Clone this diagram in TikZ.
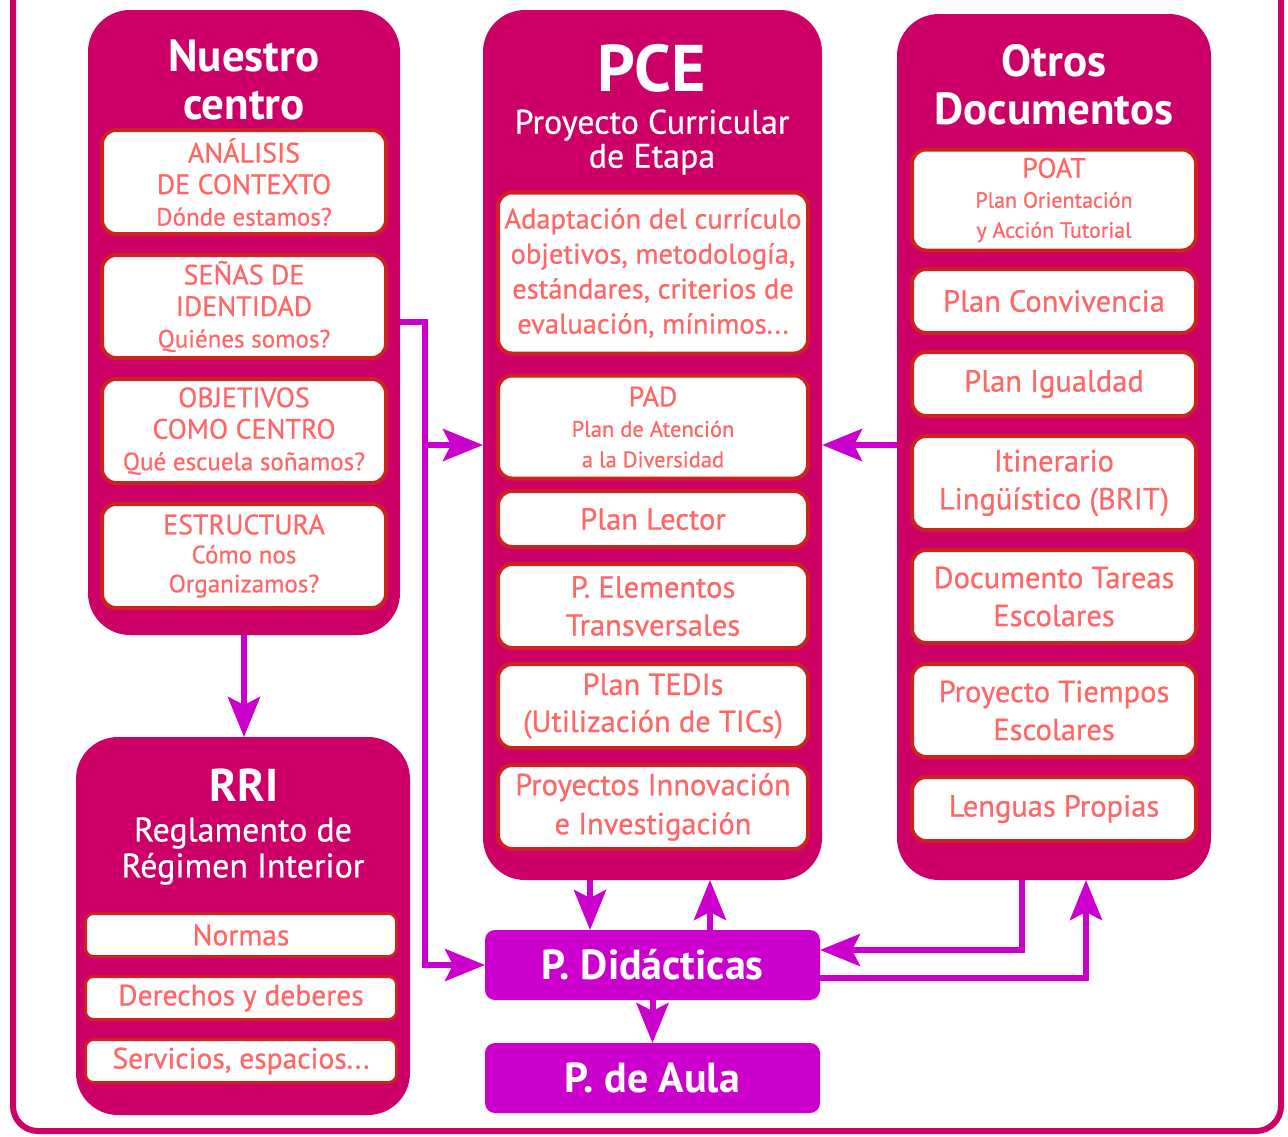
\documentclass[tikz,border=0pt]{standalone}
\usepackage{fontspec}
\setmainfont{PT Sans}[UprightFeatures={FakeBold=0.7}]
\usetikzlibrary{arrows.meta}
\definecolor{pinkc}{RGB}{204,0,102}
\definecolor{redc}{RGB}{204,34,34}
\definecolor{salm}{RGB}{255,102,102}
\definecolor{purp}{RGB}{204,0,204}
\newcommand\fsz[2]{\fontsize{#1}{#2}\selectfont}
\begin{document}
\begin{tikzpicture}[x=1pt,y=-1pt,
  col/.style={fill=pinkc, rounded corners=42, inner sep=0, outer sep=0},
  sub/.style={fill=white, draw=redc, line width=4, rounded corners=14, inner sep=0, outer sep=0, text=salm, align=center},
  ttl/.style={text=white, align=center, inner sep=0, font=\bfseries},
  wt/.style={text=white, align=center, inner sep=0},
  pbox/.style={fill=purp, rounded corners=10, inner sep=0, outer sep=0, text=white},
  arr/.style={draw=purp, line width=6, -{Stealth[length=40pt,width=32pt,inset=8pt]}}]
\useasboundingbox (0,0) rectangle (1288,1136);
\begin{scope}
\clip (0,0) rectangle (1288,1136);
\draw[pinkc, line width=6, rounded corners=25] (13,-60) rectangle (1281,1131);
\end{scope}

% Columns
\node[col, minimum width=312, minimum height=625] (nc) at (244,322.5) {};
\node[col, minimum width=339, minimum height=870] (pce) at (652.5,445) {};
\node[col, minimum width=314, minimum height=866] (od) at (1054,447) {};
\node[col, minimum width=334, minimum height=378] (rri) at (243,926) {};

% Titles
\node[ttl, font=\bfseries\fsz{45}{48}] (nct) at (244,80) {Nuestro\\centro};
\node[ttl, font=\bfseries\fsz{66}{70}] (pcet) at (652,68) {PCE};
\node[wt, font=\fsz{34}{34}] (pces) at (652,142) {Proyecto Curricular\\de Etapa};
\node[ttl, font=\bfseries\fsz{45}{48}] (odt) at (1054,85) {Otros\\Documentos};
\node[ttl, font=\bfseries\fsz{46}{50}] (rrit) at (244,785) {RRI};
\node[wt, font=\fsz{34}{36}] (rris) at (243,851) {Reglamento de\\Régimen Interior};

% Nuestro centro boxes
\node[sub, minimum width=284, minimum height=104, font=\fsz{28}{31.5}] (n1) at (244,182) {ANÁLISIS\\DE CONTEXTO\\\fsz{25}{31.5}Dónde estamos?};
\node[sub, minimum width=284, minimum height=103, font=\fsz{28}{31.5}] (n2) at (244,306.5) {SEÑAS DE\\IDENTIDAD\\\fsz{25}{31.5}Quiénes somos?};
\node[sub, minimum width=284, minimum height=104, font=\fsz{28}{31.5}] (n3) at (244,431) {OBJETIVOS\\COMO CENTRO\\\fsz{25}{31.5}Qué escuela soñamos?};
\node[sub, minimum width=284, minimum height=104, font=\fsz{28}{29}] (n4) at (244,556) {ESTRUCTURA\\\fsz{25}{29}Cómo nos\\\fsz{25}{29}Organizamos?};

% PCE boxes
\node[sub, minimum width=310, minimum height=161, font=\fsz{28.5}{35}] (p1) at (653,273) {Adaptación del currículo\\objetivos, metodología,\\estándares, criterios de\\evaluación, mínimos...};
\node[sub, minimum width=310, minimum height=103, font=\fsz{28}{30.5}] (p2) at (653,427) {PAD\\\fsz{22.5}{30.5}Plan de Atención\\\fsz{22.5}{30.5}a la Diversidad};
\node[sub, minimum width=310, minimum height=56, font=\fsz{30.5}{38}] (p3) at (653,519) {Plan Lector};
\node[sub, minimum width=310, minimum height=84, font=\fsz{30.5}{38}] (p4) at (653,606) {P. Elementos\\Transversales};
\node[sub, minimum width=310, minimum height=84, font=\fsz{30.5}{37}] (p5) at (653,706) {Plan TEDIs\\(Utilización de TICs)};
\node[sub, minimum width=310, minimum height=84, font=\fsz{30.5}{39}] (p6) at (653,807) {Proyectos Innovación\\e Investigación};

% Otros boxes
\node[sub, minimum width=284, minimum height=101, font=\fsz{28}{30}] (o1) at (1054,200) {POAT\\\fsz{22}{30}Plan Orientación\\\fsz{22}{30}y Acción Tutorial};
\node[sub, minimum width=284, minimum height=64, font=\fsz{30.5}{38}] (o2) at (1054,301) {Plan Convivencia};
\node[sub, minimum width=284, minimum height=64, font=\fsz{30.5}{38}] (o3) at (1054,384) {Plan Igualdad};
\node[sub, minimum width=284, minimum height=94, font=\fsz{30.5}{38}] (o4) at (1054,483) {Itinerario\\Lingüístico (BRIT)};
\node[sub, minimum width=284, minimum height=93, font=\fsz{30.5}{38}] (o5) at (1054,596.5) {Documento Tareas\\Escolares};
\node[sub, minimum width=284, minimum height=93, font=\fsz{30.5}{38}] (o6) at (1054,710.5) {Proyecto Tiempos\\Escolares};
\node[sub, minimum width=284, minimum height=64, font=\fsz{30.5}{38}] (o7) at (1054,809) {Lenguas Propias};

% RRI boxes
\node[sub, line width=3, rounded corners=8, minimum width=311, minimum height=43, font=\fsz{29.5}{38}] (r1) at (241,935) {Normas};
\node[sub, line width=3, rounded corners=8, minimum width=311, minimum height=43, font=\fsz{29.5}{38}] (r2) at (241,998) {Derechos y deberes};
\node[sub, line width=3, rounded corners=8, minimum width=311, minimum height=43, font=\fsz{29.5}{38}] (r3) at (241,1061) {Servicios, espacios...};

% Purple boxes
\node[pbox, minimum width=335, minimum height=70, font=\bfseries\fsz{42}{46}] (pd) at (652.5,965) {P. Didácticas};
\node[pbox, minimum width=335, minimum height=70, font=\bfseries\fsz{42}{46}] (aula) at (652.5,1078) {P. de Aula};

% Connectors
\draw[arr] (nc.east |- 0,322) -- (425,322) -- (425,965) -- (pd.west);
\draw[arr] (425,445) -- (pce.west |- 0,445);
\draw[arr] (nc.south) -- (rri.north -| nc.south);
\draw[arr] (od.west |- 0,445) -- (pce.east |- 0,445);
\draw[arr] (pce.south -| 590,0) -- (pd.north -| 590,0);
\draw[arr] (pd.north -| 710,0) -- (pce.south -| 710,0);
\draw[arr] (od.south -| 1022,0) -- (1022,950) -- (pd.east |- 0,950);
\draw[arr] (pd.east |- 0,978) -- (1086,978) -- (od.south -| 1086,0);
\draw[arr] (pd.south) -- (aula.north);
\end{tikzpicture}
\end{document}
